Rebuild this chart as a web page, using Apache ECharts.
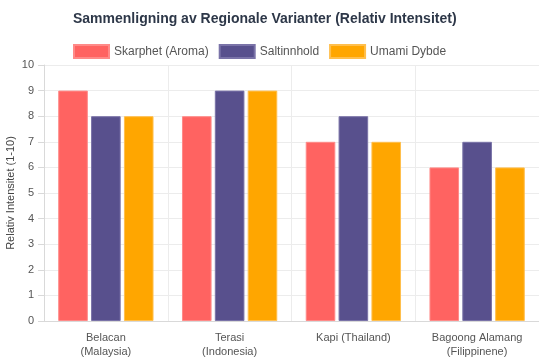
<!DOCTYPE html>
<html><head><meta charset="utf-8">
<script src="https://cdn.jsdelivr.net/npm/echarts@6/dist/echarts.min.js"></script>
<style>html,body{margin:0;padding:0;background:#fff}#c{width:539px;height:359px}</style>
</head><body><div id="c"></div>
<script>
const categories = ['Belacan\n(Malaysia)', 'Terasi\n(Indonesia)', 'Kapi (Thailand)', 'Bagoong Alamang\n(Filippinene)'];
const seriesNames = ['Skarphet (Aroma)', 'Saltinnhold', 'Umami Dybde'];
const skarphet = [9, 8, 7, 6];
const saltinnhold = [8, 9, 8, 7];
const umami = [8, 9, 7, 6];
const colors = ['#ff6361', '#58508d', '#ffa600'];
const borders = ['#ff8a88', '#7a73a8', '#ffbf4d'];
const values = [skarphet, saltinnhold, umami];

const chart = echarts.init(document.getElementById('c'), null, {renderer: 'canvas'});
chart.setOption({
  animation: false,
  textStyle: {fontFamily: 'Liberation Sans, Arial, sans-serif'},
  title: {
    text: 'Sammenligning av Regionale Varianter (Relativ Intensitet)',
    left: 68, top: 7,
    textStyle: {fontSize: 14, fontWeight: 'bold', color: '#2d3748', fontFamily: 'Liberation Sans, Arial, sans-serif'}
  },
  legend: {
    top: 39, left: 68,
    itemWidth: 35, itemHeight: 13, itemGap: 10,
    icon: 'rect',
    textStyle: {fontSize: 12, color: '#555', fontFamily: 'Liberation Sans, Arial, sans-serif'},
    data: seriesNames
  },
  grid: {left: 44, right: 0, top: 65, bottom: 38, outerBoundsMode: 'none', containLabel: false},
  xAxis: {
    type: 'category', data: categories,
    axisLine: {lineStyle: {color: '#d9d9d9'}},
    axisTick: {show: false},
    splitLine: {show: true, lineStyle: {color: '#ececec'}},
    axisLabel: {fontSize: 11, color: '#555', lineHeight: 14, margin: 10, interval: 0}
  },
  yAxis: {
    type: 'value', min: 0, max: 10, interval: 1,
    name: 'Relativ Intensitet (1-10)', nameLocation: 'middle', nameGap: 28, nameMoveOverlap: false,
    nameTextStyle: {fontSize: 11, color: '#444'},
    axisLine: {show: true, lineStyle: {color: '#d9d9d9'}},
    axisTick: {show: true, length: 6, lineStyle: {color: '#d9d9d9'}},
    splitLine: {lineStyle: {color: '#ececec'}},
    axisLabel: {fontSize: 11, color: '#555', margin: 10}
  },
  series: values.map((v, i) => ({
    name: seriesNames[i], type: 'bar', data: v,
    barWidth: 29.6, barGap: '11%',
    itemStyle: {color: colors[i], borderColor: borders[i], borderWidth: 1}
  }))
});
</script></body></html>
